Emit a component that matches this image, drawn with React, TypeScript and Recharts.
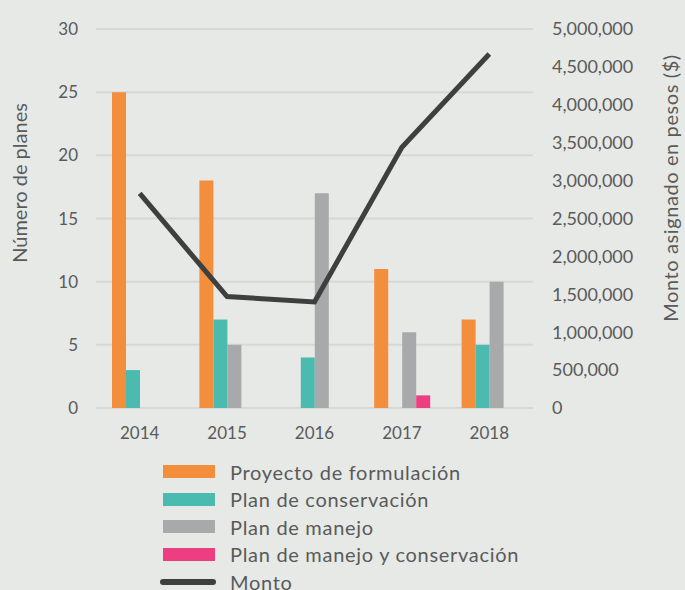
import { ComposedChart, Bar, Line, XAxis, YAxis, CartesianGrid } from 'recharts';

const years = ['2014', '2015', '2016', '2017', '2018'];
const proyecto = [25, 18, 0, 11, 7];
const conservacion = [3, 7, 4, 0, 5];
const manejo = [0, 5, 17, 6, 10];
const manejoConservacion = [0, 0, 0, 1, 0];
const monto = [2830000, 1470000, 1400000, 3440000, 4670000];

const leftTicks = [0, 5, 10, 15, 20, 25, 30];
const rightTicks = [0, 500000, 1000000, 1500000, 2000000, 2500000, 3000000, 3500000, 4000000, 4500000, 5000000];

const FONT = 'Lato, "Open Sans", sans-serif';
const TEXT = '#5a5a5a';

const legendItems = [
  { name: 'Proyecto de formulación', color: '#F28E3C', kind: 'bar' },
  { name: 'Plan de conservación', color: '#4BBBB0', kind: 'bar' },
  { name: 'Plan de manejo', color: '#A8A9AB', kind: 'bar' },
  { name: 'Plan de manejo y conservación', color: '#EE3E82', kind: 'bar' },
  { name: 'Monto', color: '#3F3F3F', kind: 'line' },
];

const data = years.map((year, i) => ({
  year,
  proyecto: proyecto[i],
  conservacion: conservacion[i],
  manejo: manejo[i],
  manejoConservacion: manejoConservacion[i],
  monto: monto[i],
}));

const fmt = (v: number) => v.toLocaleString('en-US');

export default function App() {
  return (
    <div style={{ position: 'absolute', left: 0, top: 0, width: 685, height: 590, background: '#E6E9E6', fontFamily: FONT, overflow: 'hidden' }}>
      <ComposedChart
        width={685}
        height={590}
        data={data}
        margin={{ top: 29, right: 0, bottom: 152, left: 0 }}
        barGap={0}
        barSize={14}
      >
        <CartesianGrid vertical={false} stroke="#D6D8D6" strokeWidth={2} yAxisId="left" />
        <XAxis
          dataKey="year"
          axisLine={false}
          tickLine={false}
          height={30}
          tick={{ fill: TEXT, fontSize: 17, fontFamily: FONT }}
          tickMargin={13}
        />
        <YAxis
          yAxisId="left"
          domain={[0, 30]}
          ticks={leftTicks}
          width={96}
          axisLine={false}
          tickLine={false}
          tickMargin={12}
          tick={{ fill: TEXT, fontSize: 17, fontFamily: FONT }}
          label={{
            content: () => (
              <text x={27} y={183} transform="rotate(-90 27 183)" textAnchor="middle" fill={TEXT} fontSize={20} fontFamily={FONT}>
                Número de planes
              </text>
            ),
          }}
        />
        <YAxis
          yAxisId="right"
          orientation="right"
          domain={[0, 5000000]}
          ticks={rightTicks}
          width={152}
          axisLine={false}
          tickLine={false}
          tickMargin={13}
          tickFormatter={fmt}
          tick={{ fill: TEXT, fontSize: 18, fontFamily: FONT }}
          label={{
            content: () => (
              <text x={678} y={188} transform="rotate(-90 678 188)" textAnchor="middle" fill={TEXT} fontSize={20} fontFamily={FONT} letterSpacing={0.6}>
                Monto asignado en pesos ($)
              </text>
            ),
          }}
        />
        <Bar yAxisId="left" dataKey="proyecto" fill="#F28E3C" isAnimationActive={false} />
        <Bar yAxisId="left" dataKey="conservacion" fill="#4BBBB0" isAnimationActive={false} />
        <Bar yAxisId="left" dataKey="manejo" fill="#A8A9AB" isAnimationActive={false} />
        <Bar yAxisId="left" dataKey="manejoConservacion" fill="#EE3E82" isAnimationActive={false} />
        <Line
          yAxisId="right"
          dataKey="monto"
          stroke="#3F3F3F"
          strokeWidth={5}
          dot={false}
          type="linear"
          isAnimationActive={false}
        />
      </ComposedChart>
      <div style={{ position: 'absolute', left: 163, top: 458 }}>
        {legendItems.map((item) => (
          <div key={item.name} style={{ display: 'flex', alignItems: 'center', height: 27.5 }}>
            {item.kind === 'bar' ? (
              <div style={{ width: 52, height: 13, background: item.color }} />
            ) : (
              <div style={{ width: 56, height: 6, borderRadius: 3, background: item.color, marginLeft: -3, marginRight: -1 }} />
            )}
            <span style={{ marginLeft: 15, fontSize: 20, letterSpacing: 0.7, color: TEXT, whiteSpace: 'nowrap' }}>{item.name}</span>
          </div>
        ))}
      </div>
    </div>
  );
}
